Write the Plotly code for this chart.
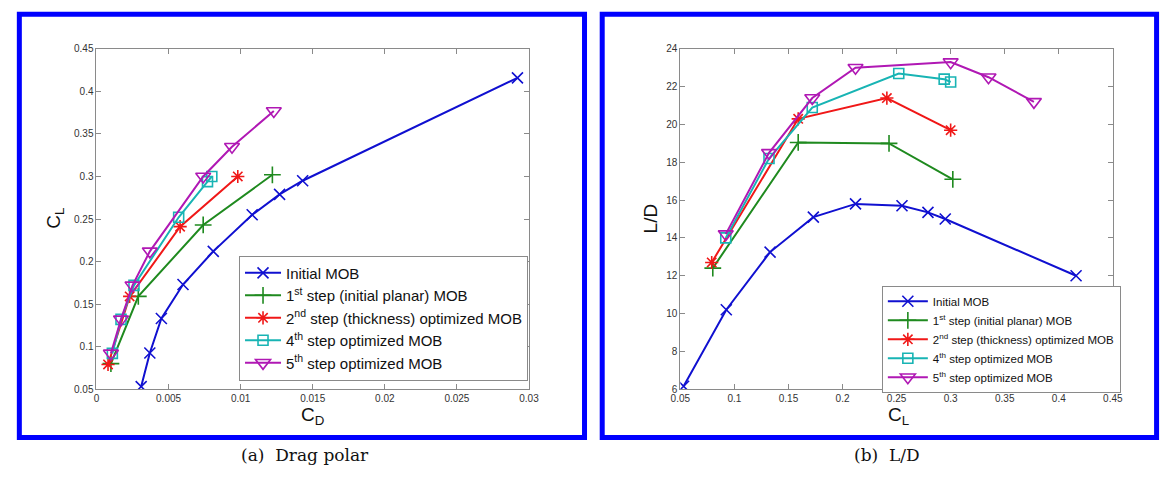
import plotly.graph_objects as go

# ---- data: drag polar (C_D, C_L) and lift-to-drag ratio (C_L, L/D) ----
series_names = [
    "Initial MOB",
    "1<sup>st</sup> step (initial planar) MOB",
    "2<sup>nd</sup> step (thickness) optimized MOB",
    "4<sup>th</sup> step optimized MOB",
    "5<sup>th</sup> step optimized MOB",
]

cl_initial = [0.053, 0.0925, 0.133, 0.173, 0.212, 0.255, 0.279, 0.295, 0.416]
cd_initial = [0.0031, 0.0037, 0.0045, 0.0060, 0.0081, 0.0108, 0.0127, 0.0143, 0.0292]
ld_initial = [6.15, 10.2, 13.25, 15.1, 15.8, 15.7, 15.35, 15.0, 12.0]

cl_step1 = [0.080, 0.159, 0.243, 0.302]
cd_step1 = [0.0010, 0.0029, 0.0074, 0.0122]
ld_step1 = [12.4, 19.05, 19.0, 17.1]

cl_step2 = [0.079, 0.159, 0.241, 0.300]
cd_step2 = [0.0008, 0.0023, 0.0058, 0.0098]
ld_step2 = [12.7, 20.3, 21.4, 19.7]

cl_step4 = [0.092, 0.132, 0.172, 0.252, 0.294, 0.300]
cd_step4 = [0.0011, 0.0017, 0.0026, 0.0057, 0.0077, 0.0080]
ld_step4 = [14.0, 18.2, 20.9, 22.7, 22.4, 22.25]

cl_step5 = [0.092, 0.132, 0.172, 0.212, 0.300, 0.335, 0.377]
cd_step5 = [0.0010, 0.0017, 0.0025, 0.0037, 0.0074, 0.0094, 0.0123]
ld_step5 = [14.2, 18.5, 21.4, 23.0, 23.3, 22.5, 21.2]

cd_ticks = [0, 0.005, 0.01, 0.015, 0.02, 0.025, 0.03]
cd_ticklabels = ["0", "0.005", "0.01", "0.015", "0.02", "0.025", "0.03"]
cl_ticks = [0.05, 0.1, 0.15, 0.2, 0.25, 0.3, 0.35, 0.4, 0.45]
cl_ticklabels = ["0.05", "0.1", "0.15", "0.2", "0.25", "0.3", "0.35", "0.4", "0.45"]
ld_ticks = [6, 8, 10, 12, 14, 16, 18, 20, 22, 24]
ld_ticklabels = ["6", "8", "10", "12", "14", "16", "18", "20", "22", "24"]

# ---- styling ----
W, H = 1171, 478
colors = ["#1010d0", "#1f8a1f", "#f01818", "#18b4b4", "#b018b4"]
symbols = ["x-thin-open", "cross-thin-open", "asterisk-open", "square-open", "triangle-down-open"]
msizes = [11, 12, 11, 10, 13]

polar = [(cd_initial, cl_initial), (cd_step1, cl_step1), (cd_step2, cl_step2),
         (cd_step4, cl_step4), (cd_step5, cl_step5)]
ratio = [(cl_initial, ld_initial), (cl_step1, ld_step1), (cl_step2, ld_step2),
         (cl_step4, ld_step4), (cl_step5, ld_step5)]

fig = go.Figure()

for i, name in enumerate(series_names):
    mk = dict(symbol=symbols[i], size=msizes[i], color=colors[i],
              line=dict(color=colors[i], width=1.6))
    x, y = polar[i]
    fig.add_trace(go.Scatter(x=x, y=y, mode="lines+markers", name=name,
                             line=dict(color=colors[i], width=2), marker=mk,
                             xaxis="x", yaxis="y", legend="legend"))
    x, y = ratio[i]
    fig.add_trace(go.Scatter(x=x, y=y, mode="lines+markers", name=name,
                             line=dict(color=colors[i], width=2), marker=mk,
                             xaxis="x2", yaxis="y2", legend="legend2"))


def px_x(p):
    return p / W


def px_y(p):
    return 1 - p / H


axis_common = dict(showline=True, linecolor="#8a8a8a", linewidth=1, mirror="ticks",
                   ticks="inside", ticklen=5, tickcolor="#8a8a8a", showgrid=False,
                   zeroline=False, tickfont=dict(family="Liberation Sans, Arial", size=10,
                                                 color="#333333"))

fig.update_layout(
    width=W, height=H,
    margin=dict(l=0, r=0, t=0, b=0),
    paper_bgcolor="white", plot_bgcolor="white",
    showlegend=True,
    xaxis=dict(domain=[px_x(88), px_x(528)], range=[0, 0.03], tickvals=cd_ticks,
               ticktext=cd_ticklabels, anchor="y", **axis_common),
    yaxis=dict(domain=[px_y(393), px_y(44)], range=[0.05, 0.45], tickvals=cl_ticks,
               ticktext=cl_ticklabels, anchor="x", **axis_common),
    xaxis2=dict(domain=[px_x(682), px_x(1122)], range=[0.05, 0.45], tickvals=cl_ticks,
                ticktext=cl_ticklabels, anchor="y2", **axis_common),
    yaxis2=dict(domain=[px_y(393), px_y(44)], range=[6, 24], tickvals=ld_ticks,
                ticktext=ld_ticklabels, anchor="x2", **axis_common),
    legend=dict(x=px_x(233), y=px_y(256), xanchor="left", yanchor="top",
                bgcolor="white", bordercolor="#8a8a8a", borderwidth=1,
                font=dict(family="Liberation Sans, Arial", size=15, color="#111111"),
                tracegroupgap=4, itemwidth=36),
    legend2=dict(x=px_x(887), y=px_y(287), xanchor="left", yanchor="top",
                 bgcolor="white", bordercolor="#8a8a8a", borderwidth=1,
                 font=dict(family="Liberation Sans, Arial", size=11.5, color="#111111"),
                 tracegroupgap=0, itemwidth=40),
)

# blue frames around each panel
for x0, x1 in [(9.5, 584.5), (602.5, 1166.5)]:
    fig.add_shape(type="rect", xref="paper", yref="paper",
                  x0=px_x(x0), x1=px_x(x1), y0=px_y(442.5), y1=px_y(8.5),
                  line=dict(color="#0000ff", width=5), fillcolor="rgba(0,0,0,0)",
                  layer="above")

label_font = dict(family="Liberation Sans, Arial", size=19, color="#111111")
caption_font = dict(family="DejaVu Serif", size=17, color="#111111")
annotations = [
    dict(text="C<sub>L</sub>", x=px_x(45), y=px_y(218), textangle=-90, font=label_font),
    dict(text="C<sub>D</sub>", x=px_x(308), y=px_y(421), font=label_font),
    dict(text="L/D", x=px_x(652), y=px_y(218), textangle=-90, font=label_font),
    dict(text="C<sub>L</sub>", x=px_x(904), y=px_y(421), font=label_font),
    dict(text="(a)  Drag polar", x=px_x(300), y=px_y(461), font=caption_font),
    dict(text="(b)  L/D", x=px_x(892), y=px_y(461), font=caption_font),
]
for a in annotations:
    fig.add_annotation(xref="paper", yref="paper", showarrow=False,
                       xanchor="center", yanchor="middle", **a)

fig.write_html("out.html")
